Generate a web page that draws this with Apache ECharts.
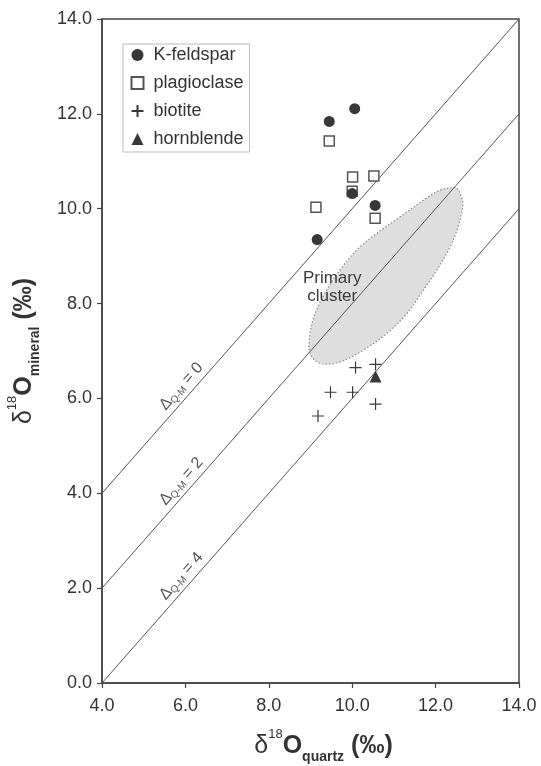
<!DOCTYPE html>
<html>
<head>
<meta charset="utf-8">
<script src="https://cdn.jsdelivr.net/npm/echarts@6/dist/echarts.min.js"></script>
<style>
  html, body { margin: 0; padding: 0; background: #fff; }
  #chart { width: 541px; height: 766px; }
</style>
</head>
<body>
<div id="chart"></div>
<script>
// Oxygen isotope data: [δ18O quartz, δ18O mineral] in per mil
const kFeldspar = [[9.45, 11.84], [10.06, 12.11], [10.00, 10.32], [9.16, 9.35], [10.55, 10.07]];
const plagioclase = [[9.45, 11.43], [10.01, 10.67], [10.52, 10.69], [10.00, 10.37], [9.13, 10.03], [10.55, 9.80]];
const biotite = [[10.08, 6.65], [10.56, 6.72], [9.48, 6.13], [10.01, 6.13], [10.56, 5.88], [9.18, 5.63]];
const hornblende = [[10.56, 6.46]];

// Constant-fractionation reference lines (Δ Q-M = 0, 2, 4)
const fractionation = ['0', '2', '4'];
const isoLines = [
  [[4, 4], [14, 14]],
  [[4, 2], [14, 12]],
  [[4, 0], [14, 10]]
];
// Points on each line where its label sits
const isoLabelAt = [[6.1, 6.1], [6.1, 4.1], [6.1, 2.1]];

// Outline of the primary cluster field
const clusterOutline = [
  [12.27, 10.43], [12.51, 10.43], [12.63, 10.22], [12.65, 10.04], [12.54, 9.62],
  [12.35, 9.20], [12.03, 8.71], [11.71, 8.29], [11.31, 7.79], [10.83, 7.37],
  [10.27, 7.02], [9.71, 6.77], [9.23, 6.74], [8.99, 6.95], [8.99, 7.37],
  [9.11, 7.79], [9.39, 8.29], [9.71, 8.71], [10.11, 9.13], [10.59, 9.48],
  [11.15, 9.83], [11.71, 10.18], [12.03, 10.36]
];
const clusterLabel = { text: 'Primary\ncluster', at: [9.52, 8.35] };

const axisTicks = { min: 4, max: 14, ymin: 0, ymax: 14, step: 2 };

const FONT = '"Liberation Sans", Arial, Helvetica, sans-serif';
const INK = '#333';
const MARK = '#383838';

function titleRich() {
  return {
    d: { fontSize: 25, fontFamily: FONT, color: INK, lineHeight: 36, verticalAlign: 'middle' },
    o: { fontSize: 25, fontFamily: FONT, color: INK, fontWeight: 'bold', lineHeight: 36, verticalAlign: 'middle' },
    sup: { fontSize: 13, fontFamily: FONT, color: INK, lineHeight: 13, verticalAlign: 'top' },
    sub: { fontSize: 14, fontFamily: FONT, color: INK, fontWeight: 'bold', lineHeight: 13, verticalAlign: 'bottom' }
  };
}

const chart = echarts.init(document.getElementById('chart'), null, { renderer: 'canvas' });

const lineSeries = isoLines.map(function (pts, i) {
  return {
    name: 'Δ' + fractionation[i],
    type: 'line',
    data: pts,
    symbol: 'none',
    silent: true,
    z: 3,
    lineStyle: { color: '#555', width: 1 },
    animation: false
  };
});

const option = {
  animation: false,
  backgroundColor: '#fff',
  grid: {
    left: 102, right: 22, top: 19, bottom: 83,
    outerBoundsMode: 'none',
    show: true, borderColor: '#444', borderWidth: 1.5
  },
  legend: {
    data: ['K-feldspar', 'plagioclase', 'biotite', 'hornblende'],
    orient: 'vertical',
    left: 123, top: 44,
    padding: [1, 6, 3, 6],
    itemWidth: 12, itemHeight: 12, itemGap: 8,
    borderColor: '#bbb', borderWidth: 1,
    backgroundColor: '#fff',
    selectedMode: false,
    textStyle: { fontSize: 18, lineHeight: 20, color: INK, fontFamily: FONT, padding: [0, 0, 0, 5] }
  },
  xAxis: {
    type: 'value',
    min: axisTicks.min, max: axisTicks.max, interval: axisTicks.step,
    splitLine: { show: false },
    axisLine: { show: true, lineStyle: { color: '#444', width: 1.5 } },
    axisTick: { show: true, inside: false, length: 5, lineStyle: { color: '#444', width: 1.2 } },
    axisLabel: { fontSize: 18, color: INK, fontFamily: FONT, margin: 14, formatter: v => v.toFixed(1) },
    name: '{d|δ}{sup|18}{o|O}{sub|quartz}{o| (‰)}',
    nameLocation: 'middle',
    nameGap: 45,
    nameTextStyle: { rich: titleRich(), padding: [0, 0, 0, 26] }
  },
  yAxis: {
    type: 'value',
    min: axisTicks.ymin, max: axisTicks.ymax, interval: axisTicks.step,
    splitLine: { show: false },
    axisLine: { show: true, lineStyle: { color: '#444', width: 1.5 } },
    axisTick: { show: true, inside: false, length: 5, lineStyle: { color: '#444', width: 1.2 } },
    axisLabel: { fontSize: 18, color: INK, fontFamily: FONT, margin: 10, formatter: v => v.toFixed(1) },
    name: '{d|δ}{sup|18}{o|O}{sub|mineral}{o| (‰)}',
    nameLocation: 'middle',
    nameRotate: 90,
    nameGap: 60,
    nameTextStyle: { rich: titleRich() }
  },
  series: [
    {
      name: 'cluster',
      type: 'custom',
      silent: true,
      z: 1,
      data: [0],
      renderItem: function (params, api) {
        const pts = clusterOutline.map(p => api.coord(p));
        const c = api.coord(clusterLabel.at);
        return {
          type: 'group',
          children: [
            {
              type: 'polygon',
              shape: { points: pts, smooth: 0.35 },
              style: { fill: '#dedede', stroke: '#8a8a8a', lineWidth: 1.2, lineDash: [1.5, 2] }
            },
            {
              type: 'text',
              x: c[0], y: c[1],
              z2: 20,
              style: {
                text: clusterLabel.text, fontSize: 17, lineHeight: 18, fontFamily: FONT,
                fill: '#3a3a3a', align: 'center', verticalAlign: 'middle'
              }
            }
          ]
        };
      }
    },
    ...lineSeries,
    {
      name: 'isoLabels',
      type: 'custom',
      silent: true,
      z: 4,
      data: isoLabelAt.map((p, i) => [p[0], p[1], i]),
      renderItem: function (params, api) {
        const i = api.value(2);
        const a = api.coord(isoLines[i][0]);
        const b = api.coord(isoLines[i][1]);
        const ang = Math.atan2(a[1] - b[1], b[0] - a[0]);
        const p = api.coord([api.value(0), api.value(1)]);
        return {
          type: 'text',
          x: p[0], y: p[1],
          rotation: ang,
          style: {
            text: '{d|Δ}{s|Q-M}{d| = ' + fractionation[i] + '}',
            x: 0, y: -2,
            align: 'center', verticalAlign: 'bottom',
            rich: {
              d: { fontSize: 16, fontFamily: FONT, fill: '#555', lineHeight: 18, verticalAlign: 'middle' },
              s: { fontSize: 10, fontFamily: FONT, fill: '#555', lineHeight: 10, verticalAlign: 'bottom' }
            }
          }
        };
      }
    },
    {
      name: 'plagioclase',
      type: 'scatter',
      data: plagioclase,
      symbol: 'rect',
      symbolSize: 10,
      z: 5,
      itemStyle: { color: '#fff', borderColor: '#555', borderWidth: 1.5, opacity: 1 }
    },
    {
      name: 'K-feldspar',
      type: 'scatter',
      data: kFeldspar,
      symbol: 'circle',
      symbolSize: 11,
      z: 6,
      itemStyle: { color: MARK, opacity: 1 }
    },
    {
      name: 'biotite',
      type: 'scatter',
      data: biotite,
      symbol: 'path://M6,0V12M0,6H12',
      symbolSize: 12,
      z: 5,
      itemStyle: { color: 'none', borderColor: MARK, borderWidth: 1.2, opacity: 1 }
    },
    {
      name: 'hornblende',
      type: 'scatter',
      data: hornblende,
      symbol: 'triangle',
      symbolSize: 12,
      z: 6,
      itemStyle: { color: MARK, opacity: 1 }
    }
  ]
};

chart.setOption(option);
</script>
</body>
</html>
